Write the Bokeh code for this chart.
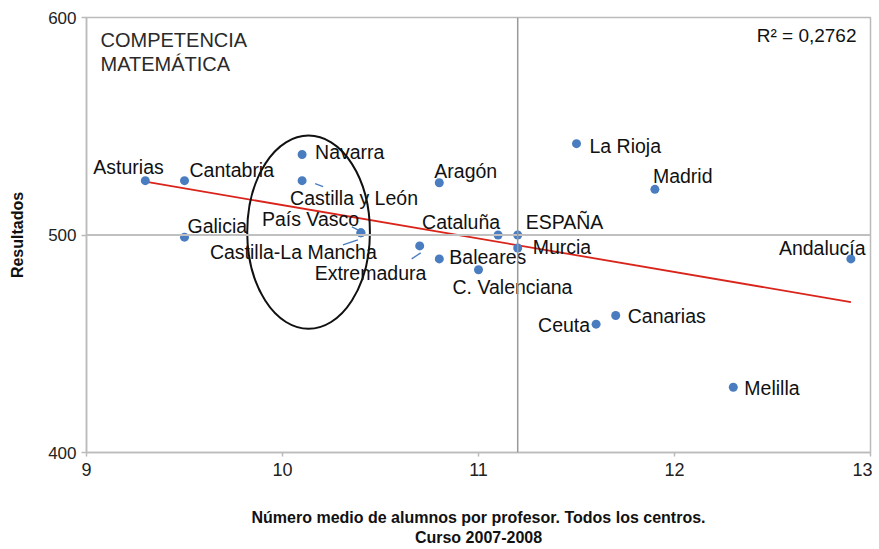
import numpy as np
from bokeh.plotting import figure
from bokeh.models import ColumnDataSource, Label, Span, FixedTicker
from bokeh.core.properties import value
from bokeh.embed import file_html
from bokeh.resources import INLINE

# ---- data ----
regions = ["Asturias", "Cantabria", "Galicia", "Navarra", "Castilla y León", "País Vasco",
           "Castilla-La Mancha", "Extremadura", "Aragón", "Baleares", "C. Valenciana",
           "Cataluña", "ESPAÑA", "Murcia", "La Rioja", "Madrid", "Andalucía",
           "Canarias", "Ceuta", "Melilla"]
alumnos = [9.3, 9.5, 9.5, 10.1, 10.1, 10.4, 10.4, 10.7, 10.8, 10.8, 11.0,
           11.1, 11.2, 11.2, 11.5, 11.9, 12.9, 11.7, 11.6, 12.3]
resultados = [525, 525, 499, 537, 525, 501, 501, 495, 524, 489, 484,
              500, 500, 494, 542, 521, 489, 463, 459, 430]
espana_x = 11.2
espana_y = 500
x_ticks = [9, 10, 11, 12, 13]
y_ticks = [400, 500, 600]
r2_text = "R² = 0,2762"
panel_title = ["COMPETENCIA", "MATEMÁTICA"]
x_title = ["Número medio de alumnos por profesor. Todos los centros.", "Curso 2007-2008"]
y_title = "Resultados"
# highlighted group (ellipse), data units
ell_x, ell_y, ell_w, ell_h = 10.133, 501.3, 0.626, 88.9

# ---- label placement (pixel offsets from each point) ----
lab_dx = [-52, 5, 3, 13, -12, -99, -151, -105, -5, 10, -26,
          -76, 8, 15, 13, -2, -72, 12, -58, 11]
lab_dy = [-14, -11, -11, -3, 17, -14, 19, 27, -12, -2, 17,
          -13, -13, -1, 2, -13, -11, 1, 1, 1]

X0, X1, Y0, Y1 = 9, 13, 400, 600
FW, FH = 784, 435
px_x = (X1 - X0) / FW
px_y = (Y1 - Y0) / FH

p = figure(width=872, height=549, x_range=(X0, X1), y_range=(Y0, Y1),
           output_backend="svg", toolbar_location=None,
           min_border_left=86, min_border_right=2, min_border_top=17, min_border_bottom=97)
p.background_fill_color = "white"
p.border_fill_color = "white"
p.outline_line_color = "#bbbbbb"
p.outline_line_width = 1.5
p.xgrid.visible = False
p.ygrid.visible = False

p.xaxis.ticker = FixedTicker(ticks=x_ticks)
p.yaxis.ticker = FixedTicker(ticks=y_ticks)
for ax in (p.xaxis, p.yaxis):
    ax.axis_line_color = "#bbbbbb"
    ax.axis_line_width = 1.5
    ax.major_tick_line_color = "#bbbbbb"
    ax.major_tick_line_width = 1.5
    ax.major_tick_in = 0
    ax.minor_tick_line_color = None
    ax.major_label_text_color = "#222222"
p.xaxis.major_tick_out = 4
p.yaxis.major_tick_out = 5
p.xaxis.major_label_text_font = "Liberation Sans"
p.xaxis.major_label_text_font_size = "18px"
p.xaxis.major_label_standoff = 6
p.yaxis.major_label_text_font = "Liberation Sans"
p.yaxis.major_label_text_font_size = "17px"
p.yaxis.major_label_standoff = 5
p.yaxis.axis_label = y_title
p.yaxis.axis_label_text_font = "Liberation Sans"
p.yaxis.axis_label_text_font_style = "bold"
p.yaxis.axis_label_text_font_size = "16px"
p.yaxis.axis_label_text_color = "#111111"
p.yaxis.axis_label_standoff = 19

p.xaxis.axis_label = "\n".join(x_title)
p.xaxis.axis_label_text_font = "Liberation Sans"
p.xaxis.axis_label_text_font_style = "bold"
p.xaxis.axis_label_text_font_size = "16px"
p.xaxis.axis_label_text_color = "#111111"
p.xaxis.axis_label_text_line_height = 1.2
p.xaxis.axis_label_standoff = 30

# reference lines (Spain)
p.add_layout(Span(location=espana_y, dimension="width", line_color="#c0c0c0", line_width=2))
p.add_layout(Span(location=espana_x, dimension="height", line_color="#999999", line_width=1.5))

# trend line (least squares on the regions, Spain excluded)
xs = np.array([a for a, r in zip(alumnos, regions) if r != "ESPAÑA"])
ys = np.array([b for b, r in zip(resultados, regions) if r != "ESPAÑA"])
slope, intercept = np.polyfit(xs, ys, 1)
tx = np.array([xs.min(), xs.max()])
p.line(tx, slope * tx + intercept, line_color="#d9241b", line_width=1.8)

# ellipse
p.ellipse(x=[ell_x], y=[ell_y], width=[ell_w], height=[ell_h],
          fill_color=None, line_color="#111111", line_width=2)

# leader lines (offsets in px from the point)
leaders = {"Castilla y León": (13, 3, 21, 6), "País Vasco": (-9, -6, -3, -3),
           "Castilla-La Mancha": (-18, 12, -3, 7), "Extremadura": (-8, 13, 1, 7)}
lx0, ly0, lx1, ly1 = [], [], [], []
for name, (a, b, c, d) in leaders.items():
    i = regions.index(name)
    lx0.append(alumnos[i] + a * px_x); ly0.append(resultados[i] - b * px_y)
    lx1.append(alumnos[i] + c * px_x); ly1.append(resultados[i] - d * px_y)
p.segment(lx0, ly0, lx1, ly1, line_color="#4a7dc0", line_width=1.3)

src = ColumnDataSource(dict(x=alumnos, y=resultados, name=regions, dx=lab_dx, dy=lab_dy))
p.scatter("x", "y", source=src, size=9, fill_color="#4a7dc0", line_color=None)
p.text("x", "y", text="name", source=src, x_offset="dx", y_offset="dy",
       text_font=value("Liberation Sans"), text_font_size="19.5px", text_color="#111111",
       text_align="left", text_baseline="middle")

# panel title and R²
for k, t in enumerate(panel_title):
    p.add_layout(Label(x=X0, y=Y1, x_offset=14, y_offset=-22 - 24.5 * k, text=t,
                       text_font="Liberation Sans", text_font_size="20px",
                       text_color="#2a2a2a", text_baseline="middle"))
p.add_layout(Label(x=X1, y=Y1, x_offset=-14, y_offset=-18, text=r2_text,
                   text_font="Liberation Sans", text_font_size="19px",
                   text_color="#111111", text_align="right", text_baseline="middle"))

open("out.html", "w").write(file_html(p, INLINE))
